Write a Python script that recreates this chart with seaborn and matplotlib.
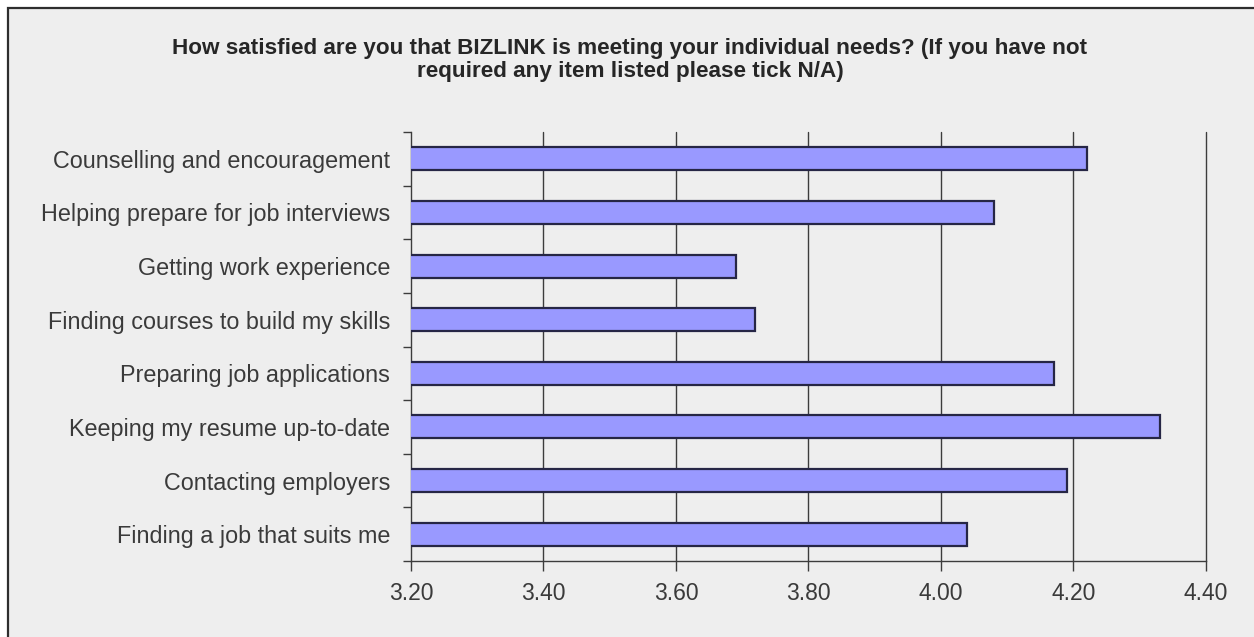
import matplotlib
matplotlib.use("Agg")
import matplotlib.pyplot as plt
from matplotlib.patches import Rectangle
from matplotlib.ticker import FixedLocator, MultipleLocator, FormatStrFormatter
import seaborn as sns
import pandas as pd

title = ("How satisfied are you that BIZLINK is meeting your individual needs? (If you have not\n"
         "required any item listed please tick N/A)")

categories = [
    "Counselling and encouragement",
    "Helping prepare for job interviews",
    "Getting work experience",
    "Finding courses to build my skills",
    "Preparing job applications",
    "Keeping my resume up-to-date",
    "Contacting employers",
    "Finding a job that suits me",
]
scores = [4.22, 4.08, 3.69, 3.72, 4.17, 4.33, 4.19, 4.04]

x_min, x_max, x_step = 3.20, 4.40, 0.20

df = pd.DataFrame({"item": categories, "score": scores})

sns.set_theme(style="white")
plt.rcParams["font.family"] = ["Liberation Sans", "DejaVu Sans"]

bg = "#eeeeee"
text_col = "#3a3a3a"
line_col = "#3c3c3c"

fig = plt.figure(figsize=(12.54, 6.37), dpi=100, facecolor="white")
# chart area panel with a dark frame along its top and left edges
W, H = 1254, 637
panel = Rectangle((8 / W, -0.05), 1.1, 1 - 8 / H + 0.05, transform=fig.transFigure,
                  facecolor=bg, edgecolor="#2e2e2e", linewidth=1.6, zorder=-5)
fig.patches.append(panel)

ax = fig.add_axes([411 / W, 1 - 561 / H, (1206 - 411) / W, (561 - 132) / H])
ax.set_zorder(2)
ax.set_facecolor(bg)

sns.barplot(data=df, x="score", y="item", orient="h", color="#9999ff",
            edgecolor="#262645", linewidth=1.6, width=0.43, saturation=1,
            ax=ax, zorder=3)

ax.set_xlim(x_min, x_max)
ax.set_ylim(len(categories) - 0.5, -0.5)
ax.xaxis.set_major_locator(MultipleLocator(x_step))
ax.xaxis.set_major_formatter(FormatStrFormatter("%.2f"))
ax.set_xlabel("")
ax.set_ylabel("")

# vertical gridlines at each major tick
for v in ax.get_xticks():
    if x_min + 1e-9 < v <= x_max + 1e-9:
        ax.axvline(v, color=line_col, linewidth=1.0, zorder=1, clip_on=False)

# category boundary tick marks on the value axis
ax.yaxis.set_minor_locator(FixedLocator([i - 0.5 for i in range(len(categories) + 1)]))
ax.tick_params(axis="y", which="major", length=0, pad=15, labelsize=16.8, labelcolor=text_col)
ax.tick_params(axis="y", which="minor", left=True, length=6, width=1.0, color=line_col, direction="out")
ax.tick_params(axis="x", which="major", bottom=True, length=7, width=1.0, color=line_col,
               direction="out", pad=8, labelsize=16.5, labelcolor=text_col)

for side in ["top", "right"]:
    ax.spines[side].set_visible(False)
for side in ["left", "bottom"]:
    ax.spines[side].set_visible(True)
    ax.spines[side].set_color(line_col)
    ax.spines[side].set_linewidth(1.0)

fig.text(630 / W, 1 - 60 / H, title, ha="center", va="center", fontsize=16.2,
         fontweight="bold", color="#262626", linespacing=1.15)

fig.savefig("out.png", dpi=100, facecolor=fig.get_facecolor())
